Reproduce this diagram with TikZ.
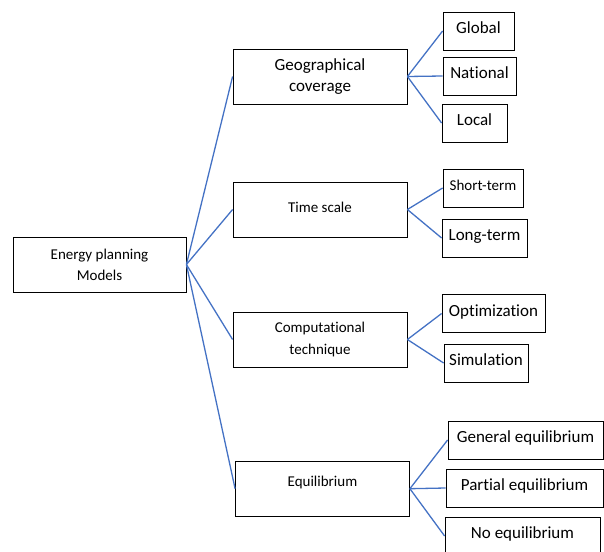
\documentclass[tikz,border=0pt]{standalone}
\usepackage{fontspec}
\setmainfont[Ligatures=CommonOff]{Carlito}
\definecolor{linkblue}{HTML}{4472C4}
\begin{document}
\begin{tikzpicture}[x=1pt, y=-1pt,
            box/.style={draw, line width=0.8pt, inner sep=0pt, align=center, minimum width=174pt, minimum height=55pt, font=\fontsize{15}{21}\selectfont},
            leaf/.style={draw, line width=0.8pt, inner sep=0pt, minimum height=38pt, text height=12pt, text depth=7pt, font=\fontsize{17}{20}\selectfont},
            link/.style={linkblue, line width=1.3pt}]
            \clip (0, 0) rectangle (604, 551);
            \draw (99.5, 264.5) node(root)[box, minimum width=173pt]{Energy planning\\Models};
            \draw (320, 76.5) node(geo)[box, font=\fontsize{17}{21}\selectfont]{Geographical\\coverage};
            \draw (320, 209.5) node(time)[box, text depth=5pt]{Time scale};
            \draw (320, 339.5) node(comp)[box, font=\fontsize{15}{22}\selectfont]{Computational\\technique};
            \draw (322.5, 488.7) node(equi)[box, text height=11pt, text depth=15pt]{Equilibrium};
            \draw (478.5, 31) node(global)[leaf, minimum width=71pt]{Global};
            \draw (479.5, 76) node(national)[leaf, minimum width=73pt]{National};
            \draw (474.5, 123) node(local)[leaf, minimum width=65pt]{Local};
            \draw (483, 188) node(short)[leaf, minimum width=80pt, font=\fontsize{15}{18}\selectfont]{Short-term};
            \draw (484.5, 238) node(long)[leaf, minimum width=85pt]{Long-term};
            \draw (493.5, 313.5) node(optim)[leaf, minimum width=103pt]{Optimization};
            \draw (486, 363) node(simul)[leaf, minimum width=84pt]{Simulation};
            \draw (525.5, 440) node(general)[leaf, minimum width=155pt]{General equilibrium};
            \draw (524.5, 488) node(partial)[leaf, minimum width=157pt]{Partial equilibrium};
            \draw (522.5, 536) node(noeq)[leaf, minimum width=155pt]{No equilibrium};
            \draw[link] (root.east)--(geo.west);
            \draw[link] (root.east)--(time.west);
            \draw[link] (root.east)--(comp.west);
            \draw[link] (root.east)--(equi.west);
            \draw[link] (geo.east)--(global.west);
            \draw[link] (geo.east)--(national.west);
            \draw[link] (geo.east)--(local.west);
            \draw[link] (time.east)--(short.west);
            \draw[link] (time.east)--(long.west);
            \draw[link] (comp.east)--(optim.west);
            \draw[link] (comp.east)--(simul.west);
            \draw[link] (equi.east)--(general.west);
            \draw[link] (equi.east)--(partial.west);
            \draw[link] (equi.east)--(noeq.west);
        \end{tikzpicture}
\end{document}
